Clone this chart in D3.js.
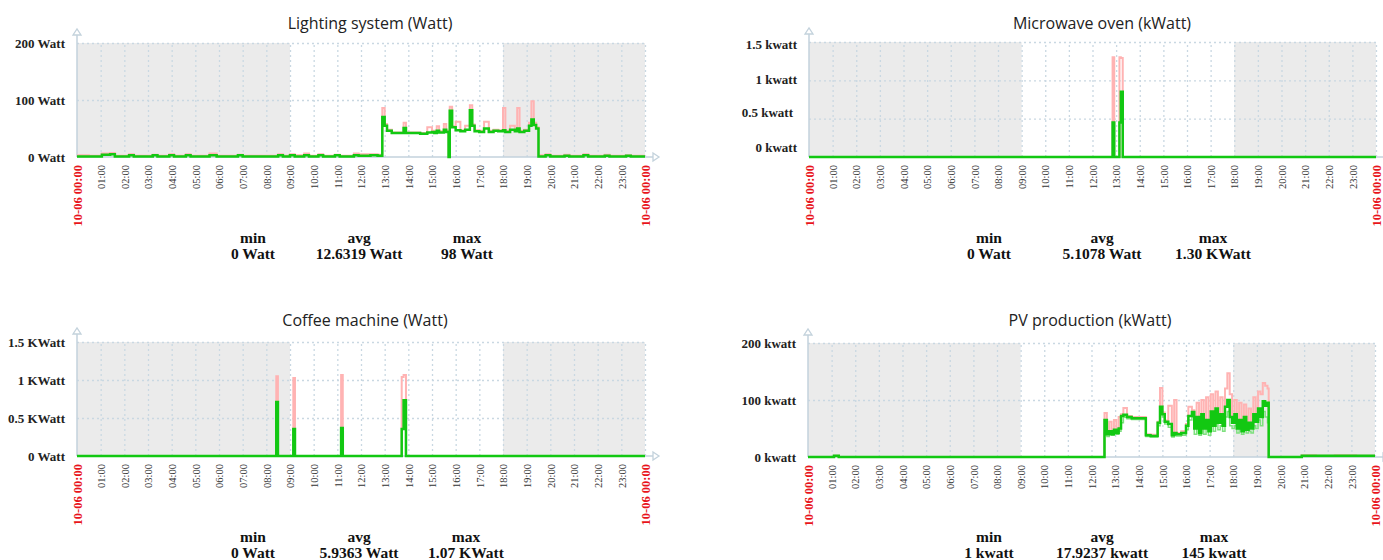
<!DOCTYPE html>
<html><head><meta charset="utf-8">
<script src="https://cdn.jsdelivr.net/npm/d3@7"></script>
<style>body{margin:0;background:#fff;} svg{display:block}</style>
</head><body><svg id="c" width="1383" height="560"></svg>
<script>
// ---------- shared labels ----------
const hourTickValues = d3.range(1, 24);
const hourTickLabels = ["01:00","02:00","03:00","04:00","05:00","06:00","07:00","08:00","09:00","10:00","11:00","12:00","13:00","14:00","15:00","16:00","17:00","18:00","19:00","20:00","21:00","22:00","23:00"];
const dateLabel = "10-06 00:00";
const statHeaders = ["min", "avg", "max"];
const nightSpans = [[0, 9], [18, 24]];

// ---------- Lighting system (W) ----------
const lightingHours = [
  0, 0.5, 1.05, 1.4, 1.6, 2.2, 2.4, 3.2, 3.4, 3.9,
  4.1, 4.6, 4.8, 5.6, 5.9, 6.8, 7.0, 8.5, 8.7, 9.0,
  9.2, 9.6, 9.8, 10.2, 10.4, 10.9, 11.1, 11.7, 11.9, 12.4,
  12.7, 12.9, 13.0, 13.1, 13.3, 13.8, 13.9, 14.5, 14.8, 15.0,
  15.1, 15.2, 15.3, 15.5, 15.6, 15.7, 15.75, 15.85, 16.0, 16.2,
  16.4, 16.6, 16.7, 16.8, 17.0, 17.2, 17.4, 17.6, 17.8, 18.0,
  18.1, 18.3, 18.5, 18.6, 18.7, 18.9, 19.1, 19.2, 19.3, 19.4,
  19.5, 19.8, 20.0, 20.6, 20.8, 21.4, 21.6, 22.3, 22.5, 23.2,
  23.4, 24];
const lightingAvg = [
  1, 1, 4, 5, 1, 3, 1, 3, 1, 3,
  1, 3, 1, 3, 1, 3, 1, 3, 1, 3,
  1, 3, 1, 3, 1, 3, 1, 3, 2, 3,
  2, 70, 55, 46, 42, 51, 42, 41, 43, 44,
  42, 46, 43, 48, 44, 0, 81, 52, 47, 45,
  48, 82, 55, 45, 44, 50, 44, 46, 45, 47,
  44, 48, 45, 50, 44, 46, 55, 66, 56, 50,
  1, 3, 1, 2, 1, 3, 1, 2, 1, 2,
  1, 1];
const lightingMax = [
  3, 2, 6, 7, 2, 5, 2, 4, 2, 5,
  2, 5, 2, 6, 2, 4, 2, 5, 2, 5,
  3, 6, 2, 5, 2, 4, 2, 6, 5, 5,
  4, 86, 58, 48, 43, 60, 43, 42, 52, 46,
  44, 54, 45, 58, 46, 0, 88, 54, 62, 47,
  55, 91, 57, 47, 46, 62, 46, 48, 47, 86,
  46, 55, 47, 86, 46, 48, 60, 98, 60, 52,
  3, 5, 2, 4, 2, 5, 2, 4, 2, 3,
  2, 2];
const lightingTicks = [0, 100, 200];
const lightingTickLabels = ["0 Watt", "100 Watt", "200 Watt"];
const lightingStats = ["0 Watt", "12.6319 Watt", "98 Watt"];

// ---------- Microwave oven (W) ----------
const microwaveHours = [0, 12.85, 12.92, 13.14, 13.2, 13.28, 24];
const microwaveAvg = [0, 450, 0, 450, 850, 0, 0];
const microwaveMax = [0, 1300, 0, 1300, 1290, 0, 0];
const microwaveTicks = [0, 500, 1000, 1500];
const microwaveTickLabels = ["0 kwatt", "0.5 kwatt", "1 kwatt", "1.5 kwatt"];
const microwaveStats = ["0 Watt", "5.1078 Watt", "1.30 KWatt"];

// ---------- Coffee machine (W) ----------
const coffeeHours = [0, 8.42, 8.49, 9.14, 9.21, 11.16, 11.23, 13.72, 13.8, 13.9, 24];
const coffeeAvg = [0, 710, 0, 355, 0, 370, 0, 355, 735, 0, 0];
const coffeeMax = [0, 1050, 0, 1025, 0, 1065, 0, 1040, 1065, 0, 0];
const coffeeTicks = [0, 500, 1000, 1500];
const coffeeTickLabels = ["0 Watt", "0.5 KWatt", "1 KWatt", "1.5 KWatt"];
const coffeeStats = ["0 Watt", "5.9363 Watt", "1.07 KWatt"];

// ---------- PV production (kW) ----------
const pvHours = [
  0, 1.1, 1.3, 12.55, 12.65, 12.75, 12.85, 12.95, 13.05, 13.15,
  13.25, 13.35, 13.5, 13.7, 14.0, 14.3, 14.5, 14.8, 14.9, 15.0,
  15.1, 15.25, 15.4, 15.5, 15.6, 15.8, 16.0, 16.1, 16.25, 16.35,
  16.45, 16.55, 16.65, 16.75, 16.85, 16.95, 17.05, 17.15, 17.25, 17.35,
  17.45, 17.55, 17.65, 17.75, 17.85, 17.95, 18.05, 18.15, 18.25, 18.35,
  18.45, 18.55, 18.65, 18.75, 18.85, 18.95, 19.05, 19.15, 19.25, 19.35,
  19.45, 19.5, 20.9, 21.5, 22.3, 23.2, 24];
const pvAvg = [
  0, 2, 0, 65, 40, 45, 40, 48, 42, 50,
  72, 74, 70, 68, 68, 38, 37, 60, 88, 75,
  62, 58, 38, 42, 40, 42, 55, 72, 79, 50,
  70, 42, 75, 50, 65, 45, 80, 55, 85, 60,
  75, 55, 88, 100, 70, 60, 75, 50, 65, 45,
  70, 48, 60, 50, 75, 62, 85, 70, 98, 90,
  95, 0, 2, 2, 2, 2, 2];
const pvMax = [
  0, 2, 0, 77, 42, 62, 42, 65, 44, 70,
  75, 86, 72, 70, 70, 40, 39, 62, 121, 78,
  64, 90, 40, 100, 42, 45, 58, 88, 82, 52,
  95, 45, 100, 53, 105, 48, 110, 58, 115, 63,
  105, 58, 120, 147, 110, 63, 100, 53, 95, 48,
  92, 51, 85, 53, 105, 65, 115, 110, 130, 125,
  120, 0, 3, 2, 3, 2, 2];
const pvMin = [
  0, 1, 0, 42, 36, 40, 38, 43, 40, 45,
  60, 70, 67, 66, 66, 36, 35, 55, 80, 70,
  58, 52, 35, 38, 37, 38, 48, 65, 70, 40,
  55, 38, 60, 40, 50, 38, 60, 45, 65, 48,
  55, 45, 70, 80, 55, 50, 55, 42, 50, 40,
  50, 42, 45, 42, 55, 50, 65, 55, 80, 70,
  60, 0, 1, 1, 1, 1, 1];
const pvTicks = [0, 100, 200];
const pvTickLabels = ["0 kwatt", "100 kwatt", "200 kwatt"];
const pvStats = ["1 kwatt", "17.9237 kwatt", "145 kwatt"];

// ---------- panels ----------
const panels = [
  {title: "Lighting system (Watt)", hours: lightingHours, avg: lightingAvg, max: lightingMax,
   yMax: 200, ticks: lightingTicks, tickLabels: lightingTickLabels, stats: lightingStats,
   x0: 77, x1: 645, yTop: 43, y0: 157, titleX: 370, titleY: 29, statX: [253, 359, 467], statY: 243},
  {title: "Microwave oven (kWatt)", hours: microwaveHours, avg: microwaveAvg, max: microwaveMax,
   yMax: 1500, ticks: microwaveTicks, tickLabels: microwaveTickLabels, stats: microwaveStats,
   labelDy: [-10, -6, -1, 2], labelDx: [0, -4, 0, 0],
   x0: 809, x1: 1376, yTop: 42, y0: 157, titleX: 1102, titleY: 29, statX: [989, 1102, 1213], statY: 243},
  {title: "Coffee machine (Watt)", hours: coffeeHours, avg: coffeeAvg, max: coffeeMax,
   yMax: 1500, ticks: coffeeTicks, tickLabels: coffeeTickLabels, stats: coffeeStats,
   x0: 77, x1: 645, yTop: 342, y0: 456, titleX: 365, titleY: 326, statX: [253, 359, 466], statY: 542},
  {title: "PV production (kWatt)", hours: pvHours, avg: pvAvg, max: pvMax, min: pvMin,
   yMax: 200, ticks: pvTicks, tickLabels: pvTickLabels, stats: pvStats,
   x0: 808, x1: 1375, yTop: 343, y0: 457, titleX: 1090, titleY: 326, statX: [989, 1102, 1214], statY: 542}
];

const svg = d3.select("#c");
const serif = "'Liberation Serif','Times New Roman',serif";
const axisCol = "#c3d2dc";
const gridCol = "#c9d8e2";

panels.forEach(p => {
  const g = svg.append("g");
  const x = d3.scaleLinear().domain([0, 24]).range([p.x0, p.x1]);
  const y = d3.scaleLinear().domain([0, p.yMax]).range([p.y0, p.yTop]);

  // night shading
  g.selectAll("rect.night").data(nightSpans).join("rect")
    .attr("x", d => x(d[0])).attr("width", d => x(d[1]) - x(d[0]))
    .attr("y", y(p.yMax)).attr("height", y(0) - y(p.yMax))
    .attr("fill", "#ebebeb");

  // vertical grid
  const vg = g.append("g").attr("transform", `translate(0,${p.y0})`)
    .call(d3.axisBottom(x).tickValues(d3.range(1, 25)).tickSize(-(p.y0 - p.yTop)).tickFormat(""));
  vg.select(".domain").remove();
  vg.selectAll("line").attr("stroke", gridCol).attr("stroke-width", 1.3).attr("stroke-dasharray", "2,3");

  // horizontal grid
  const hg = g.append("g").attr("transform", `translate(${p.x0},0)`)
    .call(d3.axisLeft(y).tickValues(p.ticks.filter(t => t > 0)).tickSize(-(p.x1 - p.x0)).tickFormat(""));
  hg.select(".domain").remove();
  hg.selectAll("line").attr("stroke", gridCol).attr("stroke-width", 1.3).attr("stroke-dasharray", "2,3");

  // axis lines with arrows
  g.append("line").attr("x1", p.x0).attr("x2", p.x0).attr("y1", p.y0).attr("y2", p.yTop - 10)
    .attr("stroke", axisCol).attr("stroke-width", 1.5);
  g.append("path").attr("d", `M${p.x0 - 4},${p.yTop - 8} L${p.x0},${p.yTop - 14} L${p.x0 + 4},${p.yTop - 8} Z`)
    .attr("fill", "#fff").attr("stroke", axisCol).attr("stroke-width", 1.3);
  g.append("line").attr("x1", p.x0).attr("x2", p.x1 + 8).attr("y1", p.y0).attr("y2", p.y0)
    .attr("stroke", axisCol).attr("stroke-width", 1.5);
  g.append("path").attr("d", `M${p.x1 + 8},${p.y0 - 4} L${p.x1 + 14},${p.y0} L${p.x1 + 8},${p.y0 + 4} Z`)
    .attr("fill", "#fff").attr("stroke", axisCol).attr("stroke-width", 1.3);

  // y tick labels
  const ya = g.append("g").attr("transform", `translate(${p.x0},0)`)
    .call(d3.axisLeft(y).tickValues(p.ticks).tickSize(0).tickPadding(12).tickFormat((d, i) => p.tickLabels[i]));
  ya.select(".domain").remove();
  ya.selectAll("text").attr("font-family", serif).attr("font-weight", "bold").attr("font-size", 13).attr("fill", "#222")
    .attr("transform", (d, i) => `translate(${p.labelDx ? p.labelDx[i] : 0},${p.labelDy ? p.labelDy[i] : 0})`);

  // hour labels (rotated)
  const xa = g.append("g").attr("transform", `translate(0,${p.y0})`)
    .call(d3.axisBottom(x).tickValues(hourTickValues).tickSize(0).tickFormat((d, i) => hourTickLabels[i]));
  xa.select(".domain").remove();
  xa.selectAll("text").attr("transform", "rotate(-90)").attr("x", -8).attr("y", 0).attr("dy", "0.35em")
    .attr("text-anchor", "end").attr("font-family", serif).attr("font-size", 10.5).attr("fill", "#333");

  // date labels
  const da = g.append("g").attr("transform", `translate(0,${p.y0})`)
    .call(d3.axisBottom(x).tickValues([0, 24]).tickSize(0).tickFormat(() => dateLabel));
  da.select(".domain").remove();
  da.selectAll("text").attr("transform", "rotate(-90)").attr("x", -8).attr("y", 0).attr("dy", "0.35em")
    .attr("text-anchor", "end").attr("font-family", serif).attr("font-weight", "bold").attr("font-size", 12.5).attr("fill", "#e8141b");

  // series
  const line = vals => d3.line().x((d, i) => x(p.hours[i])).y(d => y(d)).curve(d3.curveStepAfter)(vals);
  g.append("path").attr("d", line(p.max)).attr("fill", "none").attr("stroke", "#ffb3b3").attr("stroke-width", 2);
  if (p.min) g.append("path").attr("d", line(p.min)).attr("fill", "none").attr("stroke", "#7fe07f").attr("stroke-width", 1.5);
  g.append("path").attr("d", line(p.avg)).attr("fill", "none").attr("stroke", "#12c812").attr("stroke-width", 2.5);

  // title
  g.append("text").attr("x", p.titleX).attr("y", p.titleY).attr("text-anchor", "middle")
    .attr("font-family", "'Open Sans','Noto Sans',sans-serif").attr("font-size", 16).attr("fill", "#222").text(p.title);

  // stats
  statHeaders.forEach((h, i) => {
    g.append("text").attr("x", p.statX[i]).attr("y", p.statY).attr("text-anchor", "middle")
      .attr("font-family", serif).attr("font-weight", "bold").attr("font-size", 15.5).attr("fill", "#111").text(h);
    g.append("text").attr("x", p.statX[i]).attr("y", p.statY + 15.5).attr("text-anchor", "middle")
      .attr("font-family", serif).attr("font-weight", "bold").attr("font-size", 15.5).attr("fill", "#111").text(p.stats[i]);
  });
});
</script></body></html>
